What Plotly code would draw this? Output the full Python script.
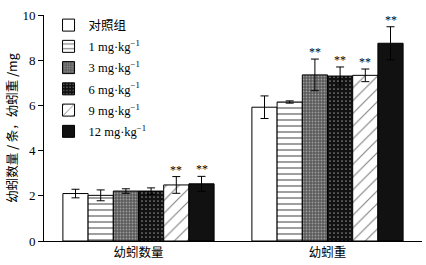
import plotly.graph_objects as go

categories = ["幼蚓数量", "幼蚓重"]
series_names = ["对照组", "1 mg·kg<sup>−1</sup>", "3 mg·kg<sup>−1</sup>",
                "6 mg·kg<sup>−1</sup>", "9 mg·kg<sup>−1</sup>", "12 mg·kg<sup>−1</sup>"]
ctrl = [2.10, 5.92]
d1 = [2.02, 6.15]
d3 = [2.21, 7.35]
d6 = [2.21, 7.30]
d9 = [2.48, 7.33]
d12 = [2.53, 8.75]
e_ctrl = [0.19, 0.50]
e_d1 = [0.24, 0.05]
e_d3 = [0.10, 0.70]
e_d6 = [0.14, 0.40]
e_d9 = [0.37, 0.28]
e_d12 = [0.33, 0.73]
sig_ctrl = ["", ""]
sig_d1 = ["", ""]
sig_d3 = ["", "**"]
sig_d6 = ["", "**"]
sig_d9 = ["**", "**"]
sig_d12 = ["**", "**"]

values = [ctrl, d1, d3, d6, d9, d12]
errors = [e_ctrl, e_d1, e_d3, e_d6, e_d9, e_d12]
sigs = [sig_ctrl, sig_d1, sig_d3, sig_d6, sig_d9, sig_d12]

patterns = [
    dict(shape="", bgcolor="white"),
    dict(shape="-", bgcolor="white", fgcolor="black", size=6, solidity=0.25),
    dict(shape=".", bgcolor="#5a5a5a", fgcolor="#dddddd", size=3, solidity=0.3),
    dict(shape=".", bgcolor="#111111", fgcolor="white", size=4, solidity=0.15),
    dict(shape="/", bgcolor="white", fgcolor="black", size=9, solidity=0.12),
    dict(shape="", bgcolor="#111111"),
]
fills = ["white", "white", "#5a5a5a", "#111111", "white", "#111111"]

FONT = "Liberation Serif, Times New Roman, Noto Sans CJK SC, serif"
xpos = list(range(len(categories)))
n = len(values)
groupw = 0.8
bw = groupw / n

fig = go.Figure()
for i in range(n):
    fig.add_trace(go.Bar(
        x=xpos, y=values[i], name=series_names[i], legendgroup=f"g{i}",
        marker=dict(color=fills[i], pattern=patterns[i],
                    line=dict(color="black", width=1)),
        error_y=dict(type="data", array=errors[i], color="black",
                     thickness=1, width=4),
    ))
    for k in xpos:
        if sigs[i][k]:
            fig.add_annotation(
                x=k + (i - (n - 1) / 2) * bw, y=values[i][k] + errors[i][k],
                text=sigs[i][k], showarrow=False, yanchor="bottom", yshift=-2,
                opacity=0.99,
                font=dict(family=FONT, size=12, color="#000000"))

fig.update_layout(
    width=426, height=265,
    margin=dict(l=44, r=4, t=15, b=24, autoexpand=False),
    plot_bgcolor="white", paper_bgcolor="white",
    barmode="group", bargap=0.2, bargroupgap=0,
    font=dict(family=FONT, size=12, color="black"),
    legend=dict(x=0.012, y=1.02, xanchor="left", yanchor="top",
                bgcolor="rgba(0,0,0,0)", font=dict(size=12.5),
                itemwidth=30, tracegroupgap=2, maxheight=400),
    showlegend=True,
)
fig.update_xaxes(
    tickvals=xpos, ticktext=categories, range=[-0.5, len(categories) - 0.5],
    showline=True, linecolor="black", linewidth=1, ticks="", showgrid=False,
    zeroline=False, automargin=False, ticklabelstandoff=0,
    tickfont=dict(size=12.5, family="Noto Sans CJK SC"))
fig.update_yaxes(
    range=[0, 10], tickvals=[0, 2, 4, 6, 8, 10],
    showline=True, linecolor="black", linewidth=1, ticks="outside",
    ticklen=5, tickcolor="black", showgrid=False, zeroline=False,
    automargin=False, tickfont=dict(size=13),
    title=dict(text="幼蚓数量 / 条，幼蚓重 /mg", standoff=2,
               font=dict(size=12.5, family="Noto Sans CJK SC")))

fig.write_html("out.html", config={"displayModeBar": False},
               post_script="document.body.style.margin='0';document.body.style.overflow='hidden';")
